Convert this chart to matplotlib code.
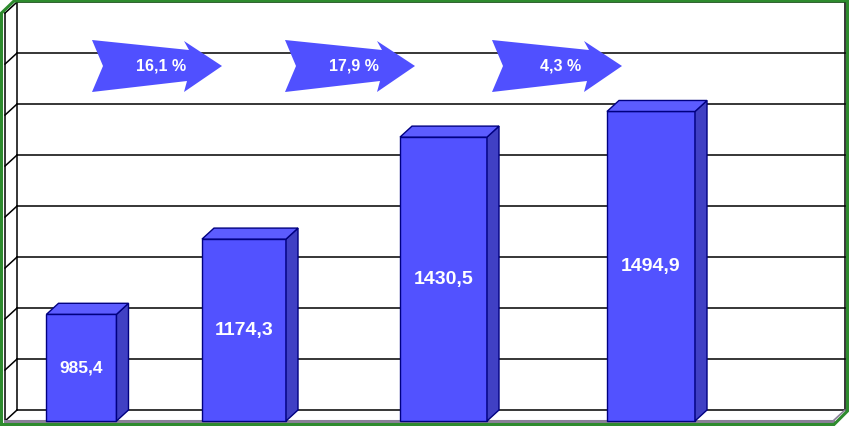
import matplotlib
matplotlib.use("Agg")
import matplotlib.pyplot as plt
from matplotlib.patches import Polygon

# data
values = [985.4, 1174.3, 1430.5, 1494.9]
value_labels = ["985,4", "1174,3", "1430,5", "1494,9"]
growth_labels = ["16,1 %", "17,9 %", "4,3 %"]

# layout (x in pixels, y in value units)
bar_centers = [81.5, 244, 443.5, 651]
bar_widths = [70, 84, 87, 88]
arrow_starts = [92, 285, 492]
label_sizes = [12.5, 14, 14, 14]

PX = 0.39807            # pixels per value unit
Y0 = 706.55             # pixel row of value 0
base = 717.3            # floor of the value axis
step = 128.1            # grid step
n_grid = 8
dx, dz = 12, 11 / PX    # depth offset (x pixels, value units)

front_c = '#5252ff'
side_c = '#4040c4'
top_c = '#5c5cff'
edge_c = '#000080'


def v_of_px(y):
    return (Y0 - y) / PX


fig = plt.figure(figsize=(8.49, 4.26), dpi=100)
ax = fig.add_axes([0, 0, 1, 1])
ax.axis('off')
ax.set_xlim(0, 849)
ax.set_ylim(v_of_px(426), v_of_px(0))

left_front, left_back, right_back = 5, 5 + dx, 845
top_v = base + n_grid * step

# back wall gridlines and left side wall
for k in range(n_grid + 1):
    g = base + k * step
    ax.plot([left_back, right_back], [g + dz, g + dz], color='black', lw=1.1, zorder=1)
    ax.plot([left_front, left_back], [g, g + dz], color='black', lw=1.1, zorder=1)
ax.plot([left_back, left_back], [base + dz, top_v + dz], color='black', lw=1.1, zorder=1)
ax.plot([left_front, left_front], [base, top_v], color='black', lw=1.1, zorder=1)
ax.plot([right_back, right_back], [base + dz, top_v + dz], color='black', lw=1.1, zorder=1)

# floor front edge
ax.plot([left_front, right_back - dx], [base, base], color='#8a8098', lw=2.2, zorder=1)
ax.plot([right_back - dx, right_back], [base, base + dz], color='#8a8098', lw=1.2, zorder=1)

# bars
for c, w, v, lab, fs in zip(bar_centers, bar_widths, values, value_labels, label_sizes):
    x0, x1 = c - w / 2, c + w / 2
    front = Polygon([(x0, base), (x1, base), (x1, v), (x0, v)], closed=True,
                    facecolor=front_c, edgecolor=edge_c, lw=1, zorder=3)
    side = Polygon([(x1, base), (x1 + dx, base + dz), (x1 + dx, v + dz), (x1, v)], closed=True,
                   facecolor=side_c, edgecolor=edge_c, lw=1, zorder=3)
    top = Polygon([(x0, v), (x0 + dx, v + dz), (x1 + dx, v + dz), (x1, v)], closed=True,
                  facecolor=top_c, edgecolor=edge_c, lw=1, zorder=3)
    for p in (front, side, top):
        ax.add_patch(p)
    ax.text(c, (base + v) / 2, lab, color='white', fontsize=fs, fontweight='bold',
            family='Liberation Sans', ha='center', va='center', zorder=4)

# growth arrows (shape given as pixel offsets from tail/centre)
arrow_shape = [(0, -26), (97, -16), (92, -25), (130, 0), (92, 26), (95, 15), (0, 26), (11, 0)]
arrow_cy = 66
for x, lab in zip(arrow_starts, growth_labels):
    pts = [(x + ox, v_of_px(arrow_cy + oy)) for ox, oy in arrow_shape]
    ax.add_patch(Polygon(pts, closed=True, facecolor='#5050ff', edgecolor='none', zorder=5))
    ax.text(x + 69, v_of_px(arrow_cy), lab, color='white', fontsize=11.5, fontweight='bold',
            family='Liberation Sans', ha='center', va='center', zorder=6)

# green frame around the 3D box
frame = [(1.5, v_of_px(424.5)), (1.5, v_of_px(13)), (14, v_of_px(1)), (847.5, v_of_px(1)),
         (847.5, v_of_px(411)), (834, v_of_px(424.5))]
ax.add_patch(Polygon(frame, closed=True, facecolor='none', edgecolor='#2e8b2e', lw=2.2, zorder=7))

fig.savefig('out.png', dpi=100, facecolor='white')
